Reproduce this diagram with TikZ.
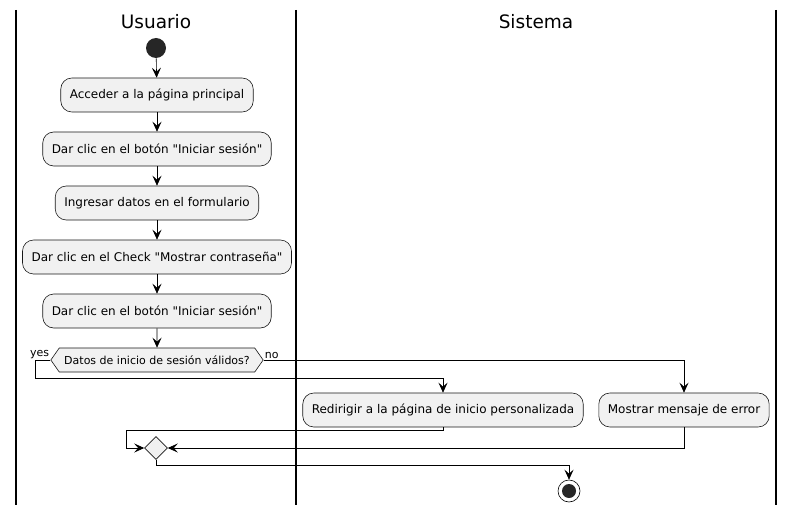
\documentclass[tikz,border=0pt]{standalone}
\usepackage{fontspec}
\setmainfont{DejaVu Sans}[Ligatures=TeXOff]
\usetikzlibrary{arrows.meta,shapes.geometric,shapes.symbols}
\definecolor{actfill}{HTML}{F1F1F1}
\definecolor{actline}{HTML}{181818}
\tikzset{
        act/.style={draw=actline, fill=actfill, rounded corners=11pt,
        minimum height=34pt, inner xsep=9pt, font=\fontsize{12}{14}\selectfont},
        >={Stealth[length=10pt, width=9pt, inset=4pt]}
}
\begin{document}
\begin{tikzpicture}[x=1pt, y=-1pt, semithick]
        \useasboundingbox (0,0) rectangle (794,513);
        \draw[line width=1.5pt] (16,10) -- (16,505);
        \draw[line width=1.5pt] (296,10) -- (296,505);
        \draw[line width=1.5pt] (776,10) -- (776,505);
        \node[font=\fontsize{18.5}{21}\selectfont] (lane1) at (156,22) {Usuario};
        \node[font=\fontsize{18.5}{21}\selectfont] (lane2) at (536,22) {Sistema};
        \node[circle, fill=black!85, minimum size=20pt, inner sep=0pt] (B)
        at (156,48) {};
        \node[act] (U1) at (157,95) {Acceder a la página principal};
        \node[act, below of=U1, node distance=54pt] (U2)
        {Dar clic en el botón "Iniciar sesión"};
        \node[act, below of=U2, node distance=54pt] (U3)
        {Ingresar datos en el formulario};
        \node[act, below of=U3, node distance=54pt] (U4)
        {Dar clic en el Check "Mostrar contraseña"};
        \node[act, below of=U4, node distance=54pt] (U5)
        {Dar clic en el botón "Iniciar sesión"};
        \node[signal, signal to=west and east, signal pointer angle=110,
        draw=actline, fill=actfill, minimum height=24pt, inner xsep=5pt,
        font=\fontsize{11}{13}\selectfont, below of=U5, node distance=49pt] (D)
        {Datos de inicio de sesión válidos?};
        \node[act] (S1) at (443,410) {Redirigir a la página de inicio personalizada};
        \node[act] (S2) at (684,410) {Mostrar mensaje de error};
        \node[diamond, draw=actline, fill=actfill, minimum size=23pt,
        inner sep=0pt] (M) at (156,448) {};
        \node[circle, draw=black, fill=white, minimum size=22pt, inner sep=0pt]
        (E) at (569,491) {};
        \fill[black!85] (E) circle (7pt);
        \node[anchor=south east, inner sep=1pt, font=\fontsize{11}{13}\selectfont]
        (yeslabel) at (D.west) {yes};
        \node[anchor=south west, inner sep=1pt, font=\fontsize{11}{13}\selectfont]
        (nolabel) at (D.east) {no};
        \coordinate (yes) at (35,378);
        \coordinate (back) at (126,430);
        \coordinate (out) at (569,465);
        \draw[->] (B) edge (U1);
        \draw[->] (U1) edge (U2);
        \draw[->] (U2) edge (U3);
        \draw[->] (U3) edge (U4);
        \draw[->] (U4) edge (U5);
        \draw[->] (U5) edge (D);
        \draw[->] (D.west) -| (yes) -| (S1.north);
        \draw[->] (D.east) -| (S2.north);
        \draw[->] (S1.south) |- (back) |- (M.west);
        \draw[->] (S2.south) |- (M.east);
        \draw[->] (M.south) |- (out) -- (E.north);
\end{tikzpicture}
\end{document}
